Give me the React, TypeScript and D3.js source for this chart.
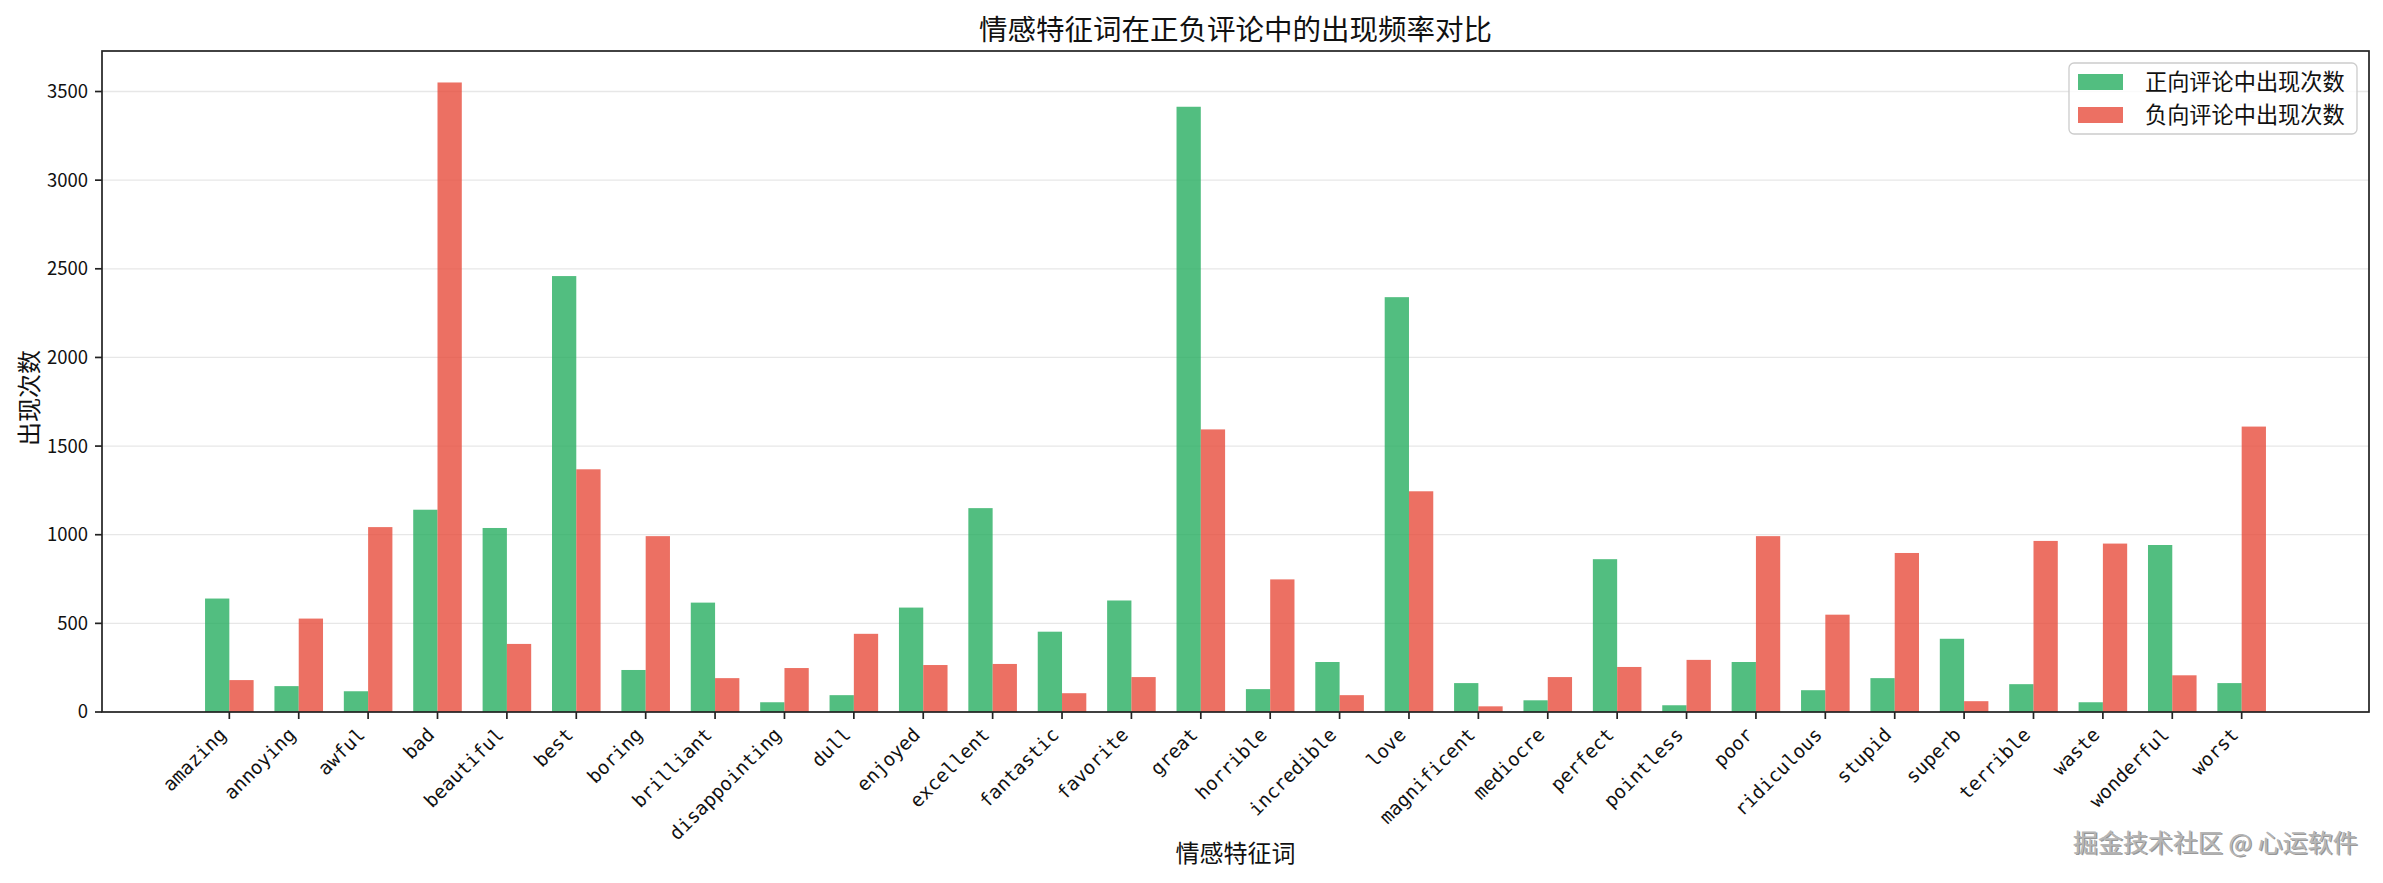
import React from 'react';
import * as d3 from 'd3';

// sentiment words (x categories)
const words = [
  'amazing', 'annoying', 'awful', 'bad', 'beautiful', 'best', 'boring', 'brilliant',
  'disappointing', 'dull', 'enjoyed', 'excellent', 'fantastic', 'favorite', 'great',
  'horrible', 'incredible', 'love', 'magnificent', 'mediocre', 'perfect', 'pointless',
  'poor', 'ridiculous', 'stupid', 'superb', 'terrible', 'waste', 'wonderful', 'worst',
];

// counts in positive reviews
const posCounts = [
  640, 146, 117, 1141, 1038, 2459, 237, 617, 55, 95, 589, 1150, 453, 629, 3414,
  129, 282, 2340, 163, 66, 862, 38, 282, 123, 191, 413, 157, 55, 942, 163,
];

// counts in negative reviews
const negCounts = [
  180, 527, 1043, 3551, 384, 1369, 992, 191, 248, 441, 265, 271, 106, 197, 1594,
  748, 95, 1245, 32, 197, 254, 294, 992, 549, 897, 61, 965, 950, 207, 1610,
];

const yTicks = [0, 500, 1000, 1500, 2000, 2500, 3000, 3500];

const seriesNames = ['正向评论中出现次数', '负向评论中出现次数'];
const seriesColors = ['#27ae60', '#e74c3c'];

const W = 2383;
const H = 883;
const left = 102;
const right = 2369;
const top = 51;
const bottom = 712;
const barW = 0.35;

const cjk = '"Noto Sans CJK SC", "Noto Sans", sans-serif';

export default function App() {
  const n = words.length;
  // matplotlib-like 5% margins around the bar extents
  const lo = -barW;
  const hi = n - 1 + barW;
  const pad = (hi - lo) * 0.05;
  const x = d3.scaleLinear().domain([lo - pad, hi + pad]).range([left, right]);
  const yMax = d3.max([...posCounts, ...negCounts]) as number;
  const y = d3.scaleLinear().domain([0, yMax * 1.05]).range([bottom, top]);

  return (
    <svg width={W} height={H} style={{ position: 'absolute', left: 0, top: 0, display: 'block', background: '#fff' }}>
      {/* grid */}
      {yTicks.map((t) => (
        <line key={'g' + t} x1={left} x2={right} y1={y(t)} y2={y(t)} stroke="#b0b0b0" strokeOpacity={0.3} strokeWidth={1.3} />
      ))}

      {/* bars */}
      {words.map((w, i) => (
        <g key={w}>
          <rect x={x(i - barW)} width={x(barW) - x(0)} y={y(posCounts[i])} height={bottom - y(posCounts[i])} fill={seriesColors[0]} fillOpacity={0.8} />
          <rect x={x(i)} width={x(barW) - x(0)} y={y(negCounts[i])} height={bottom - y(negCounts[i])} fill={seriesColors[1]} fillOpacity={0.8} />
        </g>
      ))}

      {/* frame */}
      <rect x={left} y={top} width={right - left} height={bottom - top} fill="none" stroke="#222" strokeWidth={1.7} />

      {/* y axis ticks */}
      {yTicks.map((t) => (
        <g key={'y' + t}>
          <line x1={left - 7} x2={left} y1={y(t)} y2={y(t)} stroke="#222" strokeWidth={1.7} />
          <text x={left - 14} y={y(t)} dy="0.35em" textAnchor="end" fontFamily={cjk} fontSize={18.5} fill="#111">{t}</text>
        </g>
      ))}

      {/* x axis ticks + rotated labels */}
      {words.map((w, i) => (
        <g key={'x' + w}>
          <line x1={x(i)} x2={x(i)} y1={bottom} y2={bottom + 7} stroke="#222" strokeWidth={1.7} />
          <text
            transform={`translate(${x(i) - 2},${bottom + 24}) rotate(-45)`}
            textAnchor="end"
            fontFamily='"DejaVu Sans Mono", monospace'
            fontSize={19}
            fill="#111"
          >
            {w}
          </text>
        </g>
      ))}

      {/* title and axis labels */}
      <text x={(left + right) / 2} y={40} textAnchor="middle" fontFamily={cjk} fontSize={28.5} fill="#111">
        情感特征词在正负评论中的出现频率对比
      </text>
      <text x={(left + right) / 2} y={862} textAnchor="middle" fontFamily={cjk} fontSize={24} fill="#111">
        情感特征词
      </text>
      <text transform={`translate(38,398) rotate(-90)`} textAnchor="middle" fontFamily={cjk} fontSize={24} fill="#111">
        出现次数
      </text>

      {/* legend */}
      <g>
        <rect x={2069} y={63} width={288} height={71} rx={5} fill="#fff" fillOpacity={0.8} stroke="#cccccc" strokeWidth={1.3} />
        {seriesNames.map((s, i) => (
          <g key={s}>
            <rect x={2078} y={74 + i * 33} width={45} height={16} fill={seriesColors[i]} fillOpacity={0.8} />
            <text x={2145} y={82 + i * 33} dy="0.36em" fontFamily={cjk} fontSize={22.2} fill="#111">{s}</text>
          </g>
        ))}
      </g>

      {/* watermark */}
      <text x={2359} y={853} textAnchor="end" fontFamily={cjk} fontSize={25} fill="#555" opacity={0.6}>掘金技术社区 @ 心运软件</text>
      <text x={2357.5} y={851.5} textAnchor="end" fontFamily={cjk} fontSize={25} fill="#b5b5b5">掘金技术社区 @ 心运软件</text>
    </svg>
  );
}
